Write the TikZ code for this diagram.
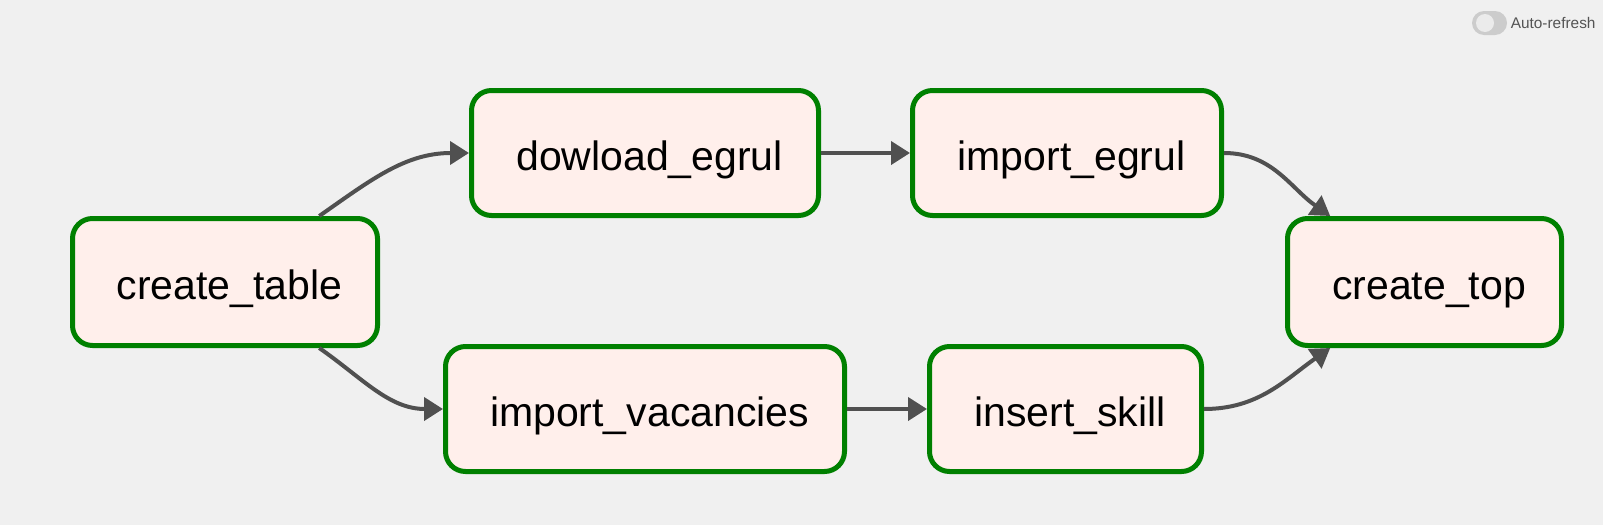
\documentclass[tikz,border=0pt]{standalone}
\usepackage{fontspec}
\setmainfont{Liberation Sans}
\usetikzlibrary{positioning,arrows.meta}

\definecolor{taskfill}{HTML}{FFEFEB}
\definecolor{taskline}{HTML}{008000}
\definecolor{edgegray}{HTML}{505050}
\definecolor{pagegray}{HTML}{F0F0F0}

\tikzset{
  task/.style={draw=taskline, fill=taskfill, line width=2.5pt, rounded corners=10pt,
    minimum height=62.5pt, text height=20pt, text depth=3pt,
    execute at begin node=\hspace*{4.6pt},
    font=\fontsize{20.5}{24}\selectfont},
  dep/.style={edgegray, line width=2pt, -{Triangle[length=9.5pt,width=11.5pt]}},
}

\begin{document}
\begin{tikzpicture}

  \fill[pagegray] (0,0) rectangle (801.5pt,-262.5pt);
  \useasboundingbox (0,0) rectangle (801.5pt,-262.5pt);

  \node (ct) [task, minimum width=152.5pt, minimum height=63.5pt] at (112.5pt,-141pt) {create\_table};
  \node (dl) [task, minimum width=173.5pt] at (322.5pt,-76.5pt) {dowload\_egrul};
  \node (ie) [task, minimum width=154.5pt, right=44.5pt of dl] {import\_egrul};
  \node (iv) [task, minimum width=199.5pt] at (322.5pt,-204.5pt) {import\_vacancies};
  \node (is) [task, minimum width=136pt, right=40pt of iv] {insert\_skill};
  \node (ctop) [task, minimum width=137pt, minimum height=63.5pt] at (712.25pt,-141pt) {create\_top};

  \draw[dep] (ct.35) to[out=35, in=180] (dl.west);
  \draw[dep] (ct.-35) to[out=-35, in=180] (iv.west);
  \draw[dep] (dl) -- (ie);
  \draw[dep] (iv) -- (is);
  \draw[dep] (ie.east) to[out=0, in=145] (ctop.145);
  \draw[dep] (is.east) to[out=0, in=-145] (ctop.-145);

  % auto-refresh switch
  \node (switch) [fill=black!20, rounded corners=6pt, minimum width=17.5pt, minimum height=12pt,
    inner sep=0pt] at (744.75pt,-11.5pt) {};
  \node (knob) [circle, fill=black!8, minimum size=9pt, inner sep=0pt] at (742.5pt,-11.5pt) {};
  \node (refresh) [right=1.5pt of switch, inner sep=0pt, text=black!67,
    font=\fontsize{7.7}{9}\selectfont] {Auto-refresh};

\end{tikzpicture}
\end{document}
